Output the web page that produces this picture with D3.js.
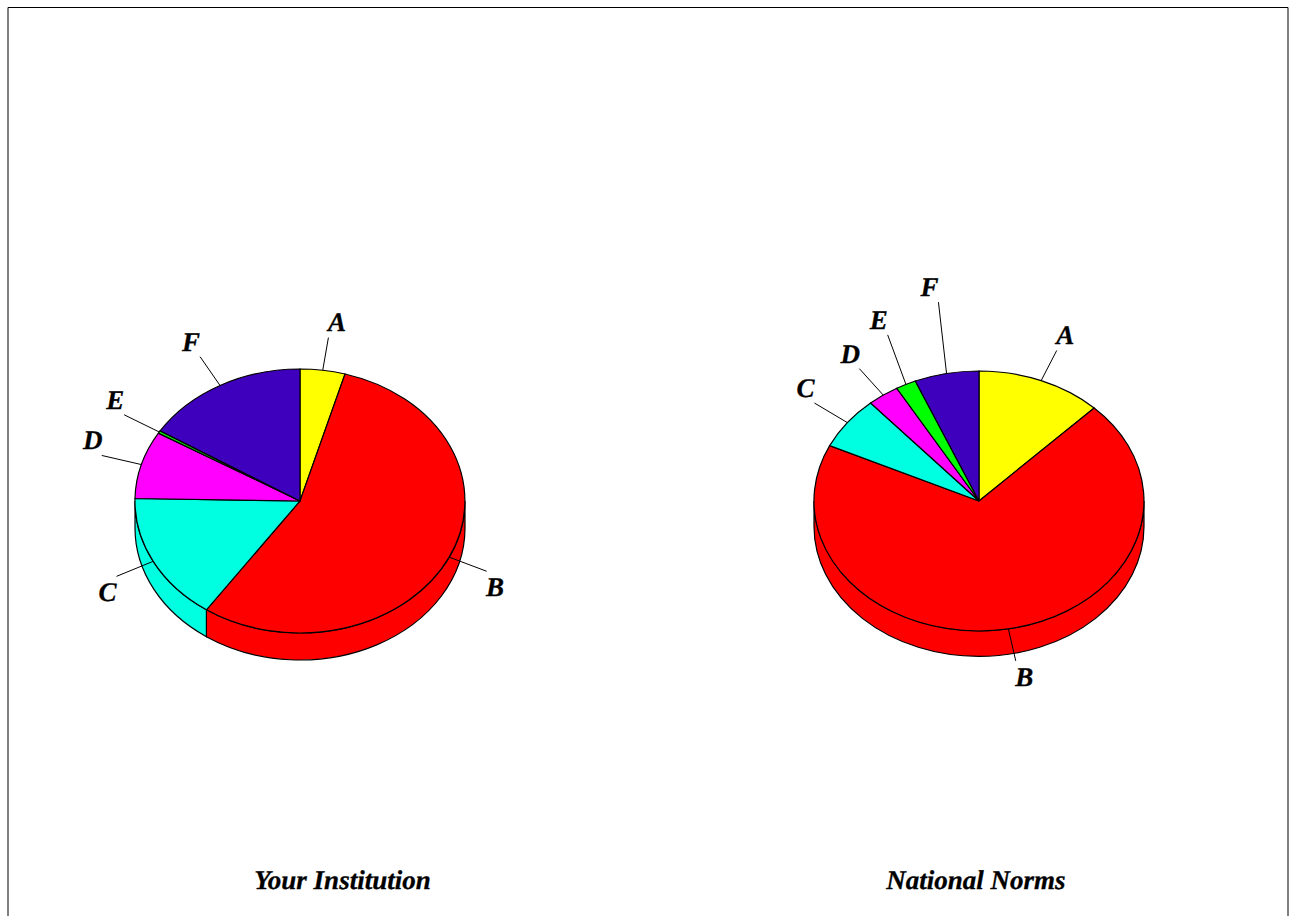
<!DOCTYPE html>
<html>
<head>
<meta charset="utf-8">
<title>Grade distribution</title>
<script src="https://cdnjs.cloudflare.com/ajax/libs/d3/7.8.5/d3.min.js"></script>
<style>
  html, body { margin: 0; padding: 0; background: #fff; overflow: hidden; }
  svg { display: block; }
  text {
    font-family: "Liberation Serif", serif; font-weight: bold; font-style: italic;
    fill: #000; stroke: #000; stroke-width: 0.3px; text-rendering: geometricPrecision;
  }
</style>
</head>
<body>
<script>
// Grade shares, percent of students
const grades = ["A", "B", "C", "D", "E", "F"];
const institutionShares = [4.4, 55.2, 15.7, 8.3, 0.3, 16.1];
const nationalShares = [12.3, 69.7, 6.6, 3.1, 2.0, 6.3];
const gradeColors = ["#ffff00", "#ff0000", "#00ffe1", "#ff00ff", "#00ff00", "#3f00bd"];

const width = 1289, height = 916;
const edgeWidth = 1.2;
const charts = [
  { title: "Your Institution", shares: institutionShares, cx: 300, cy: 501, rx: 165, ry: 132, depth: 27, titleX: 342.5,
    reachY: {} },
  // The narrow slices on this pie need longer leaders to keep their labels apart
  { title: "National Norms", shares: nationalShares, cx: 979, cy: 501, rx: 165, ry: 130, depth: 25.5, titleX: 976,
    reachY: { E: 1.425, F: 1.56 } }
];

const svg = d3.select("body").append("svg").attr("width", width).attr("height", height);

// Page frame, open at the bottom edge
svg.append("path")
  .attr("d", `M8,${height}V7.5H1288V${height}`)
  .attr("fill", "none").attr("stroke", "#000").attr("stroke-width", 1);

const pie = d3.pie().sort(null).value(d => d.share);
const unitArc = d3.arc().innerRadius(0).outerRadius(1);

charts.forEach(chart => {
  const { cx, cy, rx, ry, depth } = chart;
  const rows = grades.map((grade, i) => ({ grade, share: chart.shares[i], color: gradeColors[i] }));
  const slices = pie(rows);
  const px = a => cx + rx * Math.sin(a);
  const py = a => cy - ry * Math.cos(a);
  const g = svg.append("g");

  // Rim: only the part of each slice that lies on the front half of the disc
  slices.forEach(s => {
    const a0 = Math.max(s.startAngle, Math.PI / 2);
    const a1 = Math.min(s.endAngle, 3 * Math.PI / 2);
    if (a1 <= a0) return;
    const d = `M${px(a0)},${py(a0)}A${rx},${ry} 0 0 1 ${px(a1)},${py(a1)}` +
      `V${py(a1) + depth}A${rx},${ry} 0 0 0 ${px(a0)},${py(a0) + depth}Z`;
    g.append("path").attr("d", d)
      .attr("fill", s.data.color).attr("stroke", "#000").attr("stroke-width", edgeWidth);
  });

  // Top face: unit arcs stretched into an ellipse, stroke width left unscaled
  g.selectAll("path.slice").data(slices).join("path")
    .attr("class", "slice")
    .attr("d", unitArc)
    .attr("transform", `translate(${cx},${cy}) scale(${rx},${ry})`)
    .attr("vector-effect", "non-scaling-stroke")
    .attr("fill", d => d.data.color)
    .attr("stroke", "#000").attr("stroke-width", edgeWidth);

  // Leaders and grade labels
  slices.forEach(s => {
    const mid = (s.startAngle + s.endAngle) / 2;
    const sx = Math.sin(mid), cz = Math.cos(mid);
    // Leaders on the front half start at the top-face edge and cross the rim
    const x0 = px(mid), y0 = py(mid);
    const x1 = cx + rx * 1.25 * sx;
    const y1 = cy - ry * (chart.reachY[s.data.grade] || 1.25) * cz;
    g.append("line")
      .attr("x1", x0).attr("y1", y0).attr("x2", x1).attr("y2", y1)
      .attr("stroke", "#000").attr("stroke-width", 1);
    g.append("text")
      .attr("x", x1 + (sx >= 0 ? 8.5 : -9))
      .attr("y", y1 + (cz >= 0 ? -15 : 16))
      .attr("dy", "0.33em")
      .attr("text-anchor", "middle")
      .attr("font-size", 27)
      .text(s.data.grade);
  });

  svg.append("text")
    .attr("x", chart.titleX).attr("y", 889)
    .attr("text-anchor", "middle")
    .attr("font-size", 27)
    .text(chart.title);
});
</script>
</body>
</html>
